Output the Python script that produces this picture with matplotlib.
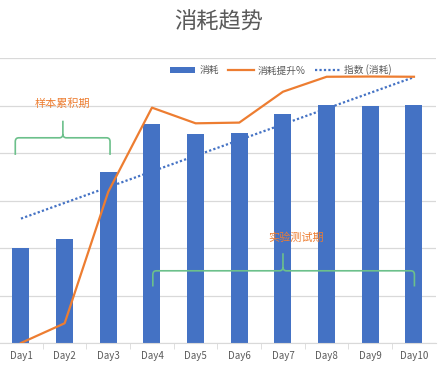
import numpy as np
import matplotlib
matplotlib.use('Agg')
import matplotlib.pyplot as plt
from matplotlib.path import Path
from matplotlib.patches import PathPatch

plt.rcParams['font.family'] = ['Noto Sans CJK SC', 'DejaVu Sans']

days = ['Day1', 'Day2', 'Day3', 'Day4', 'Day5', 'Day6', 'Day7', 'Day8', 'Day9', 'Day10']
consumo = [2.0, 2.19, 3.6, 4.61, 4.4, 4.42, 4.82, 5.02, 5.0, 5.02]
mejora = [0.0, 0.083, 0.637, 0.991, 0.925, 0.928, 1.058, 1.121, 1.122, 1.121]

azul = '#4472C4'
naranja = '#ED7D31'
verde = '#6cc08b'
gris = '#595959'

x = np.arange(len(days))

fig = plt.figure(figsize=(4.38, 3.70), dpi=100)
ax = fig.add_axes([-0.002, 27 / 370, 0.997, 285 / 370])

barras = ax.bar(x, consumo, width=0.39, color=azul, label='消耗', zorder=2)

# linea de tendencia (ajuste sobre las barras)
k, b = np.polyfit(x, consumo, 1)
tend, = ax.plot(x, k * x + b, color=azul, lw=1.6, ls=(0, (1, 1)), label='指数 (消耗)', zorder=4)

ax.set_xlim(-0.5, 9.5)
ax.set_ylim(0, 6)
ax.set_yticks(np.arange(0, 7))
ax.yaxis.grid(True, color='#d9d9d9', lw=0.9, zorder=0)
ax.set_axisbelow(True)
ax.tick_params(axis='y', left=False, labelleft=False)
for s in ['top', 'right', 'left']:
    ax.spines[s].set_visible(False)
ax.spines['bottom'].set_color('#d9d9d9')

ax.set_xticks(x)
ax.set_xticklabels(days, fontsize=7, color=gris)
ax.tick_params(axis='x', which='major', length=0, pad=6)
ax.set_xticks(np.arange(0.5, 9.5, 1), minor=True)
ax.tick_params(axis='x', which='minor', length=4, color='#d9d9d9')

ax2 = ax.twinx()
ax2.set_ylim(0, 1.2)
ax2.axis('off')
linea, = ax2.plot(x, mejora, color=naranja, lw=1.6, label='消耗提升%', zorder=3)


def llave(x0, x1, xt, yb, yh, ytip, rx=0.08, ry=0.08):
    verts = [(x0, yb), (x0, yh - ry), (x0, yh), (x0 + rx, yh),
             (xt - rx, yh), (xt, yh), (xt, yh + ry), (xt, ytip),
             (xt, yh + ry), (xt, yh), (xt + rx, yh),
             (x1 - rx, yh), (x1, yh), (x1, yh - ry), (x1, yb)]
    codes = [Path.MOVETO, Path.LINETO, Path.CURVE3, Path.CURVE3,
             Path.LINETO, Path.CURVE3, Path.CURVE3, Path.LINETO,
             Path.MOVETO, Path.CURVE3, Path.CURVE3,
             Path.LINETO, Path.CURVE3, Path.CURVE3, Path.LINETO]
    ax.add_patch(PathPatch(Path(verts, codes), fill=False, ec=verde, lw=1.2, zorder=5))


llave(-0.13, 2.04, 0.96, 3.96, 4.32, 4.68)
llave(3.02, 9.01, 6.0, 1.19, 1.52, 1.89)
ax.text(0.95, 5.03, '样本累积期', color=naranja, fontsize=8, ha='center', va='center', zorder=6)
ax.text(6.29, 2.21, '实验测试期', color=naranja, fontsize=8, ha='center', va='center', zorder=6)

fig.text(0.5, 1 - 22 / 370, '消耗趋势', fontsize=16, color=gris, ha='center', va='center')

fig.legend([barras, linea, tend], ['消耗', '消耗提升%', '指数 (消耗)'],
           loc='center', bbox_to_anchor=(281 / 438, 1 - 70 / 370), ncol=3,
           frameon=False, fontsize=7, handlelength=2.6, handleheight=0.5,
           columnspacing=1.0, handletextpad=0.4, labelcolor=gris)

fig.savefig('out.png', dpi=100)
